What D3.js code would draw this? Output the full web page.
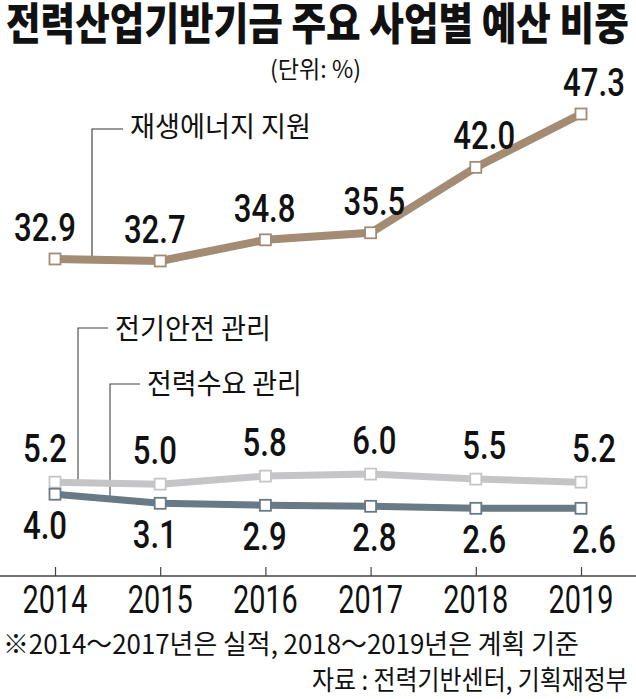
<!DOCTYPE html>
<html>
<head>
<meta charset="utf-8">
<script src="https://cdn.jsdelivr.net/npm/d3@7"></script>
<style>
  html, body { margin: 0; padding: 0; background: #fff; }
  svg { display: block; }
</style>
</head>
<body>
<div id="chart"></div>
<script>
// ---- data ----
const years = [2014, 2015, 2016, 2017, 2018, 2019];
const renewable = [32.9, 32.7, 34.8, 35.5, 42.0, 47.3];   // 재생에너지 지원
const safety = [5.2, 5.0, 5.8, 6.0, 5.5, 5.2];            // 전기안전 관리
const demand = [4.0, 3.1, 2.9, 2.8, 2.6, 2.6];            // 전력수요 관리
const seriesNames = ["재생에너지 지원", "전기안전 관리", "전력수요 관리"];
const yearLabels = ["2014", "2015", "2016", "2017", "2018", "2019"];
const titleText = "전력산업기반기금 주요 사업별 예산 비중";
const unitText = "(단위: %)";
const footnoteText = "※2014～2017년은 실적, 2018～2019년은 계획 기준";
const sourceText = "자료 : 전력기반센터, 기획재정부";

// ---- setup ----
const W = 636, H = 699;
const svg = d3.select("#chart").append("svg").attr("width", W).attr("height", H);
const KR = "'Noto Sans CJK KR', 'Noto Sans', sans-serif";
const NUM = "Roboto, 'Liberation Sans', sans-serif";

const x = d3.scaleLinear().domain([2014, 2019]).range([55, 581]);
const xLab = d3.scaleLinear().domain([2014, 2019]).range([45, 594]);
// broken value axis: low band for small series, high band for large series
const y = d3.scaleLinear().domain([0, 10, 25, 50]).range([534.5, 433.8, 338.5, 86.8]);

const colors = { renewable: "#a38b74", safety: "#c5c5c7", demand: "#687a86" };

// text fitted to a target width with a horizontal scale (keeps real bbox)
function fitText(str, px, py, size, weight, width, anchor) {
  const t = svg.append("text")
    .attr("font-family", KR).attr("font-size", size).attr("font-weight", weight)
    .attr("fill", "#111").text(str);
  const natural = t.node().getComputedTextLength() || width;
  const s = width / natural;
  const startX = anchor === "end" ? px - width : px;
  t.attr("transform", `translate(${startX},${py}) scale(${s},1)`);
  return t;
}

// ---- title & unit ----
fitText(titleText, 6, 40, 44, 900, 623);
fitText(unitText, 270, 78, 24, 400, 91);

// ---- axis ----
const axisY = 576;
const axis = d3.axisTop(x).tickValues(years).tickSize(9).tickFormat("");
const axisG = svg.append("g").attr("transform", `translate(0,${axisY})`).call(axis);
axisG.select(".domain").remove();
axisG.selectAll(".tick line").attr("stroke", "#444").attr("stroke-width", 1.2);
svg.append("line").attr("x1", 0).attr("x2", W).attr("y1", axisY).attr("y2", axisY)
  .attr("stroke", "#444").attr("stroke-width", 1.3);

years.forEach((yr, i) => {
  svg.append("text")
    .attr("transform", `translate(${x(yr)},613) scale(0.74,1)`)
    .attr("text-anchor", "middle")
    .attr("font-family", NUM).attr("font-size", 39)
    .attr("fill", "#111").text(yearLabels[i]);
});

// ---- helper: interpolate series y at pixel x ----
function yAt(vals, px) {
  const yr = x.invert(px);
  const i = Math.max(0, Math.min(years.length - 2, Math.floor(yr - years[0])));
  const t = (yr - years[i]) / (years[i + 1] - years[i]);
  return y(vals[i] + (vals[i + 1] - vals[i]) * t);
}

// ---- legend leaders ----
const legends = [
  { vals: renewable, name: seriesNames[0], lx: 92, ly: 129, tx: 130, ty: 137, tl: 181, stroke: "#333" },
  { vals: safety, name: seriesNames[1], lx: 78, ly: 328, tx: 115, ty: 339, tl: 156, stroke: "#444" },
  { vals: demand, name: seriesNames[2], lx: 110, ly: 384, tx: 147, ty: 394, tl: 155, stroke: "#444" }
];
legends.forEach(l => {
  svg.append("path")
    .attr("d", `M${l.tx - 7},${l.ly} H${l.lx} V${yAt(l.vals, l.lx)}`)
    .attr("fill", "none").attr("stroke", l.stroke).attr("stroke-width", 1.1);
  fitText(l.name, l.tx, l.ty, 28, 400, l.tl);
});

// ---- lines ----
const line = d3.line().x((d, i) => x(years[i])).y(d => y(d));
function drawSeries(vals, color, width) {
  svg.append("path").datum(vals).attr("d", line)
    .attr("fill", "none").attr("stroke", color).attr("stroke-width", width)
    .attr("stroke-linejoin", "round");
  svg.selectAll(null).data(vals).enter().append("rect")
    .attr("x", (d, i) => x(years[i]) - 5.5).attr("y", d => y(d) - 5.5)
    .attr("width", 11).attr("height", 11)
    .attr("fill", "#fff").attr("stroke", color).attr("stroke-width", 1.8);
}
drawSeries(renewable, colors.renewable, 8);
drawSeries(safety, colors.safety, 7);
drawSeries(demand, colors.demand, 7);

// ---- value labels ----
function valueLabels(vals, dy) {
  vals.forEach((v, i) => {
    svg.append("text")
      .attr("transform", `translate(${xLab(years[i])},${y(v) + dy}) scale(0.82,1)`)
      .attr("text-anchor", "middle")
      .attr("font-family", NUM).attr("font-weight", 500).attr("font-size", 38)
      .attr("fill", "#111").text(v.toFixed(1));
  });
}
valueLabels(renewable, -18);
valueLabels(safety, -20);
valueLabels(demand, 45);

// ---- footnote & source ----
fitText(footnoteText, 3, 654, 27, 400, 576);
fitText(sourceText, 628, 690, 27, 400, 316, "end");
</script>
</body>
</html>
